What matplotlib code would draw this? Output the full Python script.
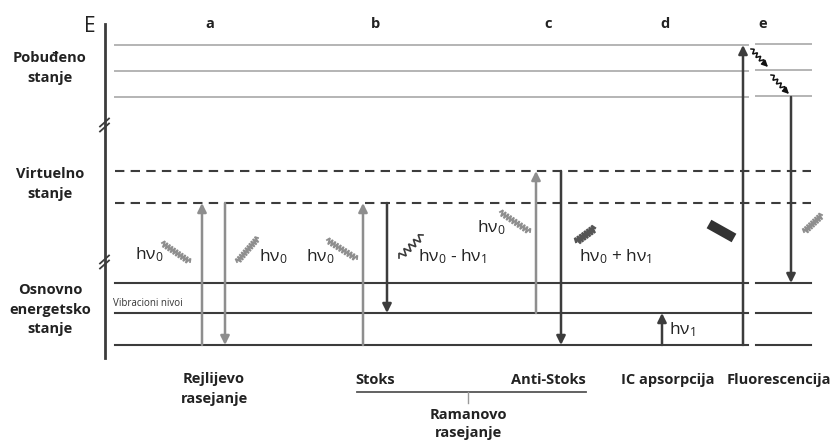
import numpy as np
import matplotlib.pyplot as plt

plt.rcParams['font.family'] = ['Open Sans', 'DejaVu Sans']

# energy levels (pixel rows of the original diagram)
excited_levels = [45, 71, 97]
virtual_levels = [171, 203]
ground_levels = [283, 313, 345]
x_left, x_right = 115, 811

column_labels = ['a', 'b', 'c', 'd', 'e']
column_x = [210, 375, 548, 665, 763]

state_labels = ['Pobuđeno\nstanje', 'Virtuelno\nstanje', 'Osnovno\nenergetsko\nstanje']
state_y = [68, 184, 310]

# transitions: x, start y, end y, colour kind
arrows_x = [202, 225, 363, 387, 536, 561, 662, 743, 791]
arrows_y0 = [345, 203, 345, 203, 313, 171, 345, 345, 97]
arrows_y1 = [203, 345, 203, 313, 171, 345, 313, 45, 283]
arrows_kind = ['light', 'light', 'light', 'dark', 'light', 'dark', 'dark', 'dark', 'dark']

bottom_labels = ['Rejlijevo\nrasejanje', 'Stoks', 'Anti-Stoks', 'IC apsorpcija', 'Fluorescencija']
bottom_x = [214, 375, 548, 668, 779]
bottom_y = [389, 380, 380, 380, 380]

LIGHT = '#8e8e8e'
DARK = '#3c3c3c'


def spring(ax, p0, p1, n, amp, color, lw):
    p0 = np.array(p0, float)
    p1 = np.array(p1, float)
    d = p1 - p0
    perp = np.array([-d[1], d[0]]) / np.hypot(*d)
    t = np.linspace(0, 1, 2 * n + 1)
    sign = np.where(np.arange(len(t)) % 2 == 0, 1, -1)
    sign[0] = sign[-1] = 0
    pts = p0 + np.outer(t, d) + np.outer(sign * amp, perp)
    ax.plot(pts[:, 0], pts[:, 1], color=color, lw=lw, solid_joinstyle='miter')
    return pts


def arrow(ax, x, y0, y1, color, lw=1.8):
    ax.annotate('', xy=(x, y1), xytext=(x, y0),
                arrowprops=dict(arrowstyle='-|>', color=color, lw=lw,
                                mutation_scale=13, shrinkA=0, shrinkB=0))


fig = plt.figure(figsize=(8.32, 4.41), dpi=100)
ax = fig.add_axes([0, 0, 1, 1])
ax.set_xlim(0, 832)
ax.set_ylim(441, 0)
ax.axis('off')

# energy axis
ax.plot([105, 105], [24, 358], color=DARK, lw=2)
ax.text(90, 27, 'E', fontsize=15, ha='center', va='center', color='#222222')
for yb in [125, 262]:
    for off in [-2.5, 2.5]:
        ax.plot([100, 109], [yb + 4 + off, yb - 4 + off], color=DARK, lw=1.3)

# levels
for y in excited_levels:
    ax.plot([x_left, 748], [y, y], color='#b4b4b4', lw=1.4)
    ax.plot([756, x_right], [y - 1, y - 1], color='#b4b4b4', lw=1.4)
for y in virtual_levels:
    ax.plot([x_left, x_right], [y, y], color=DARK, lw=1.5, dashes=(4.5, 3))
for y in ground_levels:
    ax.plot([x_left, 748], [y, y], color=DARK, lw=1.5)
    ax.plot([756, x_right], [y - 0.5, y - 0.5], color=DARK, lw=1.5)

ax.text(113, 303, 'Vibracioni nivoi', fontsize=7, ha='left', va='center', color='#333333')

for lab, x in zip(column_labels, column_x):
    ax.text(x, 24, lab, fontsize=10.5, fontweight='bold', ha='center', va='center', color='#222222')

for lab, y in zip(state_labels, state_y):
    ax.text(50, y, lab, fontsize=10.5, fontweight='bold', ha='center', va='center',
            linespacing=1.5, color='#222222')

for x, y0, y1, kind in zip(arrows_x, arrows_y0, arrows_y1, arrows_kind):
    arrow(ax, x, y0, y1, LIGHT if kind == 'light' else DARK)

# photons
spring(ax, (162, 243), (190, 262), 11, 3.2, LIGHT, 1.3)
spring(ax, (237, 262), (258, 238), 11, 3.2, LIGHT, 1.3)
spring(ax, (327, 240), (357, 259), 11, 3.2, LIGHT, 1.3)
spring(ax, (399, 258), (423, 235), 5, 3.5, DARK, 1.2)
spring(ax, (500, 212), (530, 232), 11, 3.2, LIGHT, 1.3)
spring(ax, (576, 242), (595, 228), 8, 4, '#555555', 1.6)
ax.plot([709, 734], [224, 238], color='#333333', lw=7, solid_capstyle='butt')
spring(ax, (804, 232), (822, 215), 9, 3.5, LIGHT, 1.3)

# vibrational relaxation in e
for p0, p1 in [((751, 49), (768, 67)), ((771, 75), (789, 94))]:
    spring(ax, p0, (p1[0] - 4, p1[1] - 4), 4, 2.2, '#111111', 1.1)
    ax.annotate('', xy=p1, xytext=(p1[0] - 5, p1[1] - 5),
                arrowprops=dict(arrowstyle='-|>', color='#111111', lw=1.1,
                                mutation_scale=9, shrinkA=0, shrinkB=0))

# photon labels
fs = 12.5
ax.text(135, 255, r'h$\mathregular{\nu_0}$', fontsize=fs, ha='left', va='center', color='#222222')
ax.text(259, 257, r'h$\mathregular{\nu_0}$', fontsize=fs, ha='left', va='center', color='#222222')
ax.text(306, 257, r'h$\mathregular{\nu_0}$', fontsize=fs, ha='left', va='center', color='#222222')
ax.text(418, 257, r'h$\mathregular{\nu_0}$ - h$\mathregular{\nu_1}$', fontsize=fs, ha='left', va='center', color='#222222')
ax.text(477, 228, r'h$\mathregular{\nu_0}$', fontsize=fs, ha='left', va='center', color='#222222')
ax.text(579, 257, r'h$\mathregular{\nu_0}$ + h$\mathregular{\nu_1}$', fontsize=fs, ha='left', va='center', color='#222222')
ax.text(669, 330, r'h$\mathregular{\nu_1}$', fontsize=fs, ha='left', va='center', color='#222222')

# bottom labels
for lab, x, y in zip(bottom_labels, bottom_x, bottom_y):
    ax.text(x, y, lab, fontsize=10.5, fontweight='bold', ha='center', va='center',
            linespacing=1.5, color='#222222')
ax.plot([357, 586], [392, 392], color='#555555', lw=1.3)
ax.plot([468, 468], [392, 403], color='#999999', lw=1)
ax.text(468, 424, 'Ramanovo\nrasejanje', fontsize=10.5, fontweight='bold', ha='center', va='center',
        linespacing=1.35, color='#222222')

fig.savefig('out.png', dpi=100)
